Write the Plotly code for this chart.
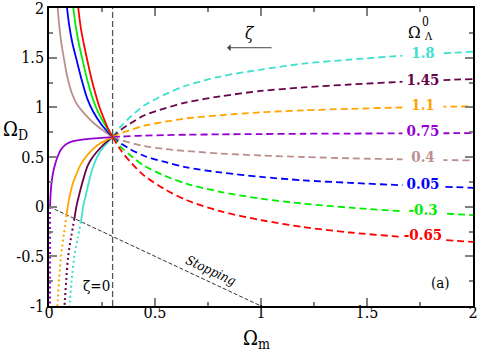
import plotly.graph_objects as go

# ---------------- data ----------------
LABELS = ["1.8", "1.45", "1.1", "0.75", "0.4", "0.05", "-0.3", "-0.65"]
COLORS = ["#40E0D0", "#67044A", "#FFA500", "#9400D3", "#BC8F8F", "#0000FF", "#00EE00", "#FF0000"]

# dashed branch (Omega_m >= 0.3), common Omega_m grid
OM_DASH = [0.3, 0.34, 0.382, 0.45, 0.547, 0.65, 0.807, 1.0, 1.2, 1.42, 1.7, 2.0]
OD_DASH = {
    "1.8":   [0.70, 0.81, 0.90, 1.02, 1.13, 1.22, 1.31, 1.38, 1.44, 1.48, 1.525, 1.56],
    "1.45":  [0.70, 0.775, 0.835, 0.92, 0.99, 1.05, 1.11, 1.165, 1.20, 1.23, 1.26, 1.285],
    "1.1":   [0.70, 0.74, 0.77, 0.815, 0.855, 0.89, 0.92, 0.95, 0.97, 0.985, 1.0, 1.01],
    "0.75":  [0.70, 0.705, 0.71, 0.715, 0.72, 0.724, 0.728, 0.731, 0.734, 0.736, 0.738, 0.74],
    "0.4":   [0.70, 0.67, 0.645, 0.61, 0.58, 0.56, 0.535, 0.515, 0.50, 0.487, 0.475, 0.465],
    "0.05":  [0.70, 0.635, 0.58, 0.51, 0.45, 0.395, 0.345, 0.30, 0.265, 0.24, 0.213, 0.19],
    "-0.3":  [0.70, 0.60, 0.52, 0.41, 0.31, 0.23, 0.15, 0.08, 0.03, -0.01, -0.05, -0.085],
    "-0.65": [0.70, 0.565, 0.455, 0.31, 0.175, 0.065, -0.045, -0.135, -0.205, -0.26, -0.31, -0.355],
}

# solid branch (Omega_m <= 0.3)
SOLID = {
    "1.8":   ([0.151, 0.162, 0.172, 0.185, 0.206, 0.24, 0.27, 0.3],
              [-0.15, 0.01, 0.10, 0.22, 0.39, 0.55, 0.63, 0.70]),
    "1.45":  ([0.12, 0.13, 0.14, 0.152, 0.165, 0.182, 0.2, 0.225, 0.26, 0.3],
              [-0.12, 0.01, 0.10, 0.20, 0.30, 0.41, 0.48, 0.55, 0.63, 0.70]),
    "1.1":   ([0.083, 0.09, 0.1, 0.115, 0.13, 0.146, 0.17, 0.193, 0.23, 0.265, 0.3],
              [-0.083, 0.02, 0.13, 0.25, 0.33, 0.41, 0.49, 0.55, 0.62, 0.665, 0.70]),
    "0.75":  ([0.005, 0.007, 0.01, 0.015, 0.021, 0.028, 0.04, 0.055, 0.075, 0.1, 0.14, 0.2, 0.3],
              [0.0, 0.10, 0.20, 0.29, 0.36, 0.42, 0.50, 0.57, 0.62, 0.65, 0.67, 0.685, 0.70]),
    "0.4":   ([0.041, 0.048, 0.058, 0.068, 0.085, 0.105, 0.135, 0.17, 0.217, 0.26, 0.3],
              [2.0, 1.83, 1.65, 1.52, 1.32, 1.16, 1.02, 0.93, 0.83, 0.76, 0.70]),
    "0.05":  ([0.085, 0.095, 0.11, 0.131, 0.155, 0.18, 0.21, 0.25, 0.3],
              [2.0, 1.83, 1.65, 1.47, 1.27, 1.09, 0.95, 0.82, 0.70]),
    "-0.3":  ([0.115, 0.125, 0.14, 0.157, 0.18, 0.206, 0.23, 0.26, 0.3],
              [2.0, 1.83, 1.65, 1.49, 1.28, 1.09, 0.96, 0.84, 0.70]),
    "-0.65": ([0.138, 0.15, 0.165, 0.18, 0.2, 0.22, 0.24, 0.26, 0.28, 0.3],
              [2.0, 1.80, 1.63, 1.48, 1.29, 1.13, 0.99, 0.88, 0.78, 0.70]),
}

# dotted branch (below the stopping line)
DOTTED = {
    "1.8":  ([0.151, 0.135, 0.12, 0.108, 0.099, 0.097], [-0.15, -0.32, -0.49, -0.72, -0.94, -1.0]),
    "1.45": ([0.12, 0.105, 0.091, 0.082, 0.075, 0.073], [-0.12, -0.30, -0.49, -0.72, -0.94, -1.0]),
    "1.1":  ([0.083, 0.07, 0.057, 0.048, 0.041, 0.039], [-0.083, -0.28, -0.49, -0.72, -0.94, -1.0]),
    "0.75": ([0.005, 0.005, 0.005], [0.0, -0.5, -1.0]),
}

STOP_OM = [0.0, 1.0]
STOP_OD = [0.0, -1.0]
ZETA0_OM = 0.3

X_TICKS = [0, 0.5, 1, 1.5, 2]
X_TICKTEXT = ["0", "0.5", "1", "1.5", "2"]
Y_TICKS = [-1, -0.5, 0, 0.5, 1, 1.5, 2]
Y_TICKTEXT = ["-1", "-0.5", "0", "0.5", "1", "1.5", "2"]

FONT = "'DejaVu Serif Condensed', 'DejaVu Serif', serif"

fig = go.Figure()

# vertical zeta = 0 line
fig.add_trace(go.Scatter(x=[ZETA0_OM, ZETA0_OM], y=[-1, 2], mode="lines",
                         line=dict(color="#555555", width=1.3, dash="6px,3px"),
                         showlegend=False, hoverinfo="skip"))
# stopping line
fig.add_trace(go.Scatter(x=STOP_OM, y=STOP_OD, mode="lines",
                         line=dict(color="#333333", width=1, dash="4px,2px"),
                         showlegend=False, hoverinfo="skip"))

for lab, col in zip(LABELS, COLORS):
    xs, ys = SOLID[lab]
    fig.add_trace(go.Scatter(x=xs, y=ys, mode="lines",
                             line=dict(color=col, width=1.8, shape="spline", smoothing=0.8),
                             showlegend=False, hoverinfo="skip"))
    fig.add_trace(go.Scatter(x=OM_DASH, y=OD_DASH[lab], mode="lines",
                             line=dict(color=col, width=1.8, dash="7px,4px", shape="spline", smoothing=0.8),
                             showlegend=False, hoverinfo="skip"))
    if lab in DOTTED:
        dx, dy = DOTTED[lab]
        fig.add_trace(go.Scatter(x=dx, y=dy, mode="lines",
                                 line=dict(color=col, width=2, dash="2px,3px", shape="spline"),
                                 showlegend=False, hoverinfo="skip"))

annotations = []
# curve labels with white background
for lab, col in zip(LABELS, COLORS):
    annotations.append(dict(x=1.765, y=OD_DASH[lab][-2], xref="x", yref="y", text="<b>%s</b>" % lab,
                            showarrow=False, font=dict(family=FONT, size=15, color=col),
                            bgcolor="white", width=40, borderpad=0, yshift=2))

annotations += [
    dict(x=1.726, y=1.755, text="Ω", showarrow=False, font=dict(family=FONT, size=17, color="black")),
    dict(x=1.777, y=1.86, text="0", showarrow=False, font=dict(family=FONT, size=12, color="black")),
    dict(x=1.79, y=1.71, text="Λ", showarrow=False, font=dict(family=FONT, size=11, color="black")),
    dict(x=0.948, y=1.75, text="<i>ζ</i>", showarrow=False, font=dict(family=FONT, size=17, color="black")),
    dict(x=0.84, y=1.6, ax=1.057, ay=1.6, axref="x", ayref="y", text="", showarrow=True,
         arrowhead=1, arrowsize=1.2, arrowwidth=1, arrowcolor="#444444"),
    dict(x=0.222, y=-0.80, text="ζ=0", showarrow=False, font=dict(family=FONT, size=15, color="black")),
    dict(x=1.846, y=-0.77, text="(a)", showarrow=False, font=dict(family=FONT, size=15, color="black")),
    dict(x=0.764, y=-0.645, text="<i>Stopping</i>", showarrow=False, textangle=25,
         font=dict(family=FONT, size=13, color="black")),
    dict(x=-0.08, y=0.59, xref="paper", yref="paper", text="Ω<sub>D</sub>", showarrow=False,
         xanchor="center", yanchor="middle", font=dict(family=FONT, size=20, color="black")),
    dict(x=0.49, y=-0.11, xref="paper", yref="paper", text="Ω<sub>m</sub>", showarrow=False,
         xanchor="center", yanchor="middle", font=dict(family=FONT, size=20, color="black")),
]

axis_common = dict(showline=True, linecolor="black", linewidth=1.5, mirror="allticks",
                   ticks="inside", ticklen=8, tickwidth=1.5, tickcolor="#808080",
                   showgrid=False, zeroline=False, automargin=False, ticklabeloverflow="allow",
                   tickfont=dict(family=FONT, size=16, color="black"))

fig.update_layout(
    width=479, height=353,
    margin=dict(l=49, r=6, t=8, b=47),
    paper_bgcolor="white", plot_bgcolor="white",
    font=dict(family=FONT),
    xaxis=dict(range=[0, 2], tickvals=X_TICKS, ticktext=X_TICKTEXT, ticklabelstandoff=-9,
               minor=dict(dtick=0.25, tick0=0, ticks="inside", ticklen=4, tickcolor="#808080", tickwidth=1.5),
               **axis_common),
    yaxis=dict(range=[-1, 2], tickvals=Y_TICKS, ticktext=Y_TICKTEXT,
               minor=dict(dtick=0.25, tick0=0, ticks="inside", ticklen=4, tickcolor="#808080", tickwidth=1.5),
               **axis_common),
    annotations=annotations,
    showlegend=False,
)

fig.write_html("out.html", config={"displayModeBar": False},
               post_script="document.body.style.margin='0';document.body.style.padding='0';")
